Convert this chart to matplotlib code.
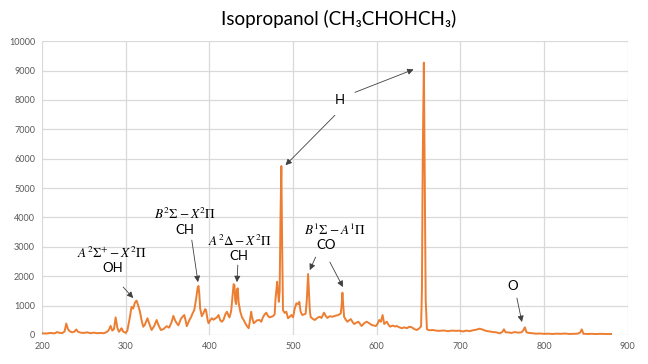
import matplotlib
matplotlib.use("Agg")
import matplotlib.pyplot as plt

plt.rcParams['font.family'] = ['Lato', 'DejaVu Sans']
plt.rcParams['mathtext.fontset'] = 'stix'

wavelength = [200, 205, 210, 215, 218, 220, 224, 227, 229, 231, 233, 236, 239, 241, 243, 246, 250,
              254, 258, 262, 266, 270, 274, 278, 280, 282, 284, 286, 288, 290, 292, 294, 295, 297,
              300, 302, 305, 307, 309, 311, 313, 315, 317, 319, 321, 323, 326, 328, 331, 334, 337,
              339, 342, 345, 349, 352, 355, 357, 359, 361, 363, 366, 368, 370, 372, 373, 376, 378,
              380, 382, 384, 386, 387, 388, 389, 391, 393, 395, 396, 398, 399, 401, 403, 405, 407,
              409, 411, 413, 415, 417, 419, 421, 423, 424, 426, 427, 429, 430, 431, 432, 433, 434,
              435, 437, 439, 441, 443, 445, 447, 448, 450, 451, 453, 455, 457, 460, 462, 464, 466,
              468, 470, 472, 474, 476, 478, 479, 481, 482, 483, 484, 485, 486, 487, 488, 490, 492,
              494, 496, 498, 500, 502, 504, 506, 507.5, 509, 511, 513, 515, 516.5, 518, 519, 520,
              521, 523, 526, 528, 530, 532, 534, 537, 539, 541, 544, 547, 550, 554, 557, 558, 559,
              560, 561, 563, 565, 567, 569, 571, 573, 576, 578, 580, 582, 585, 588, 591, 594, 597,
              599, 601, 603, 605, 607, 609, 612, 614, 616, 619, 622, 624, 627, 630, 633, 636, 639,
              642, 645, 648, 651, 653, 654, 655, 656.3, 657.5, 658.5, 660, 663, 667, 671, 675, 680,
              685, 690, 695, 699, 703, 707, 711, 715, 719, 723, 727, 731, 735, 739, 743, 747, 750,
              752, 754, 757, 761, 765, 769, 773, 775, 777, 779, 782, 786, 790, 795, 800, 805, 810,
              815, 820, 825, 830, 835, 840, 843, 845, 847, 852, 857, 862, 867, 872, 877, 880]

intensity = [60, 50, 70, 55, 100, 80, 60, 120, 390, 200, 130, 90, 120, 190, 110, 80, 70,
             90, 60, 80, 60, 70, 60, 110, 180, 310, 150, 200, 600, 250, 110, 180, 230, 120,
             70, 150, 600, 960, 900, 1100, 1170, 1000, 800, 500, 280, 350, 570, 400, 170, 300, 510,
             350, 170, 200, 300, 250, 450, 650, 500, 400, 330, 550, 620, 680, 450, 300, 500, 600,
             740, 850, 1200, 1600, 1670, 1400, 900, 640, 750, 880, 850, 500, 400, 500, 570, 520, 560,
             600, 680, 500, 450, 520, 700, 790, 650, 600, 800, 1100, 1730, 1700, 1150, 1050, 1550, 1590,
             1100, 790, 600, 510, 400, 300, 230, 400, 790, 600, 400, 450, 500, 510, 450, 600, 700,
             760, 650, 600, 620, 640, 700, 1200, 1810, 1500, 1130, 1500, 4000, 5750, 3000, 850, 750, 790,
             570, 620, 680, 600, 900, 1080, 1050, 1130, 800, 680, 700, 720, 1200, 2074, 1500, 850,
             620, 560, 510, 560, 600, 620, 580, 760, 650, 580, 640, 620, 650, 680, 730, 1000, 1440,
             1000, 620, 520, 453, 500, 540, 450, 374, 420, 453, 380, 306, 400, 453, 400, 340, 320,
             306, 380, 510, 450, 680, 374, 453, 350, 283, 320, 290, 306, 260, 230, 260, 230, 280,
             260, 200, 170, 230, 300, 1500, 6000, 9270, 5000, 1200, 193, 160, 170, 150, 140, 155,
             130, 150, 140, 147, 120, 150, 130, 160, 180, 215, 180, 136, 120, 100, 90, 57, 100,
             193, 90, 90, 70, 100, 80, 90, 150, 261, 90, 70, 60, 45, 50, 40, 45, 35,
             45, 40, 50, 35, 40, 45, 80, 193, 40, 35, 40, 30, 40, 35, 30, 35]

x_ticks = [200, 300, 400, 500, 600, 700, 800, 900]
y_ticks = [0, 1000, 2000, 3000, 4000, 5000, 6000, 7000, 8000, 9000, 10000]
title = "Isopropanol (CH\u2083CHOHCH\u2083)"

fig = plt.figure(figsize=(6.48, 3.64), dpi=100)
ax = fig.add_axes([0.0648, 0.0797, 0.904, 0.807])
ax.plot(wavelength, intensity, color='#ED7D31', lw=1.4)
ax.set_xlim(200, 900)
ax.set_ylim(0, 10000)
ax.set_xticks(x_ticks)
ax.set_yticks(y_ticks)
ax.grid(True, color='#d9d9d9', lw=0.9)
ax.set_axisbelow(True)
for s in ax.spines.values():
    s.set_visible(False)
ax.tick_params(length=0, labelsize=6.5, labelcolor='#595959', pad=5)
fig.text(0.522, 0.948, title, ha='center', va='center', fontsize=13.5, color='black')

arrow = dict(arrowstyle='-|>', color='#404040', lw=0.6, mutation_scale=9, shrinkA=0, shrinkB=0)
fs = 9.5
# H
ax.text(556, 7990, 'H', ha='center', va='center', fontsize=fs)
ax.annotate('', xy=(644, 9040), xytext=(574, 8260), arrowprops=arrow)
ax.annotate('', xy=(491, 5780), xytext=(550, 7480), arrowprops=arrow)
# OH
ax.text(284, 2822, r'$A^2\Sigma^{+}-X^2\Pi$', ha='center', va='center', fontsize=fs)
ax.text(284, 2278, 'OH', ha='center', va='center', fontsize=fs)
ax.annotate('', xy=(309, 1258), xytext=(297, 1632), arrowprops=arrow)
# CH B-X
ax.text(371, 4148, r'$B^2\Sigma-X^2\Pi$', ha='center', va='center', fontsize=fs)
ax.text(371, 3570, 'CH', ha='center', va='center', fontsize=fs)
ax.annotate('', xy=(386.4, 1800), xytext=(379, 3230), arrowprops=arrow)
# CH A-X
ax.text(437, 3230, r'$A^2\Delta-X^2\Pi$', ha='center', va='center', fontsize=fs)
ax.text(435, 2686, 'CH', ha='center', va='center', fontsize=fs)
ax.annotate('', xy=(433, 1800), xytext=(434, 2380), arrowprops=arrow)
# CO
ax.text(550, 3604, r'$B^1\Sigma-A^1\Pi$', ha='center', va='center', fontsize=fs)
ax.text(539, 3060, 'CO', ha='center', va='center', fontsize=fs)
ax.annotate('', xy=(520, 2210), xytext=(527, 2652), arrowprops=arrow)
ax.annotate('', xy=(559.6, 1632), xytext=(544, 2482), arrowprops=arrow)
# O
ax.text(763, 1666, 'O', ha='center', va='center', fontsize=fs)
ax.annotate('', xy=(773.5, 442), xytext=(767.5, 1258), arrowprops=arrow)

fig.savefig('out.png', dpi=100)
